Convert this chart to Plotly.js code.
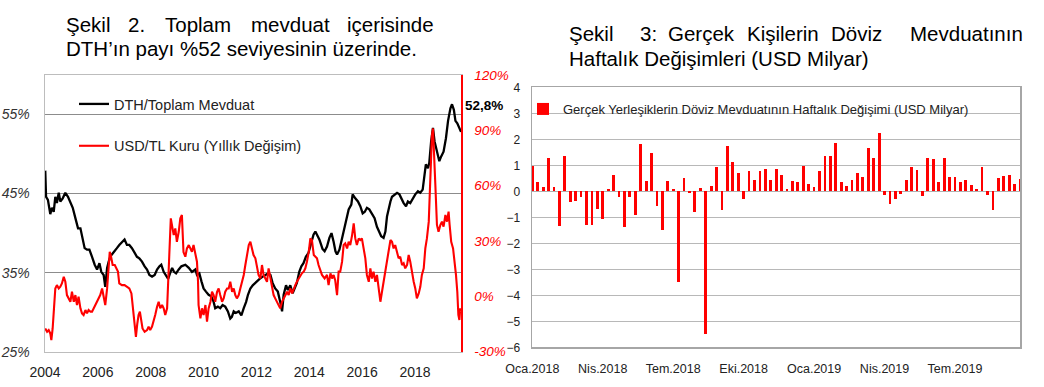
<!DOCTYPE html>
<html><head><meta charset="utf-8">
<script src="https://cdn.plot.ly/plotly-3.0.1.min.js"></script>
<style>html,body{margin:0;padding:0;background:#fff}</style>
</head><body><div id="chart" style="width:1044px;height:387px"></div>
<script>
// ---- Şekil 2: DTH / Toplam Mevduat (left axis, %) ----
const dthYear = [2004.01,2004.04,2004.11,2004.20,2004.26,2004.33,2004.39,2004.45,2004.52,2004.58,2004.67,2004.77,2004.87,2004.96,
2005.05,2005.15,2005.25,2005.34,2005.42,2005.50,2005.59,2005.68,2005.78,2005.88,2005.97,2006.06,2006.13,2006.22,2006.28,2006.35,
2006.41,2006.47,2006.53,2006.64,2006.72,2006.81,2006.91,2007.01,2007.10,2007.19,2007.29,2007.39,2007.48,2007.57,2007.67,2007.77,
2007.86,2007.95,2008.05,2008.15,2008.24,2008.33,2008.40,2008.49,2008.58,2008.66,2008.73,2008.81,2008.88,2008.96,2009.06,2009.16,
2009.31,2009.44,2009.56,2009.69,2009.75,2009.84,2009.92,2010.00,2010.09,2010.19,2010.29,2010.38,2010.44,2010.54,2010.63,2010.72,
2010.82,2010.92,2011.01,2011.07,2011.14,2011.22,2011.33,2011.43,2011.52,2011.61,2011.68,2011.77,2011.86,2011.96,2012.06,2012.15,
2012.24,2012.34,2012.44,2012.53,2012.61,2012.71,2012.81,2012.90,2012.97,2013.03,2013.12,2013.19,2013.28,2013.37,2013.45,2013.53,
2013.62,2013.70,2013.78,2013.87,2013.97,2014.07,2014.16,2014.23,2014.29,2014.38,2014.45,2014.50,2014.58,2014.67,2014.76,2014.84,
2014.92,2014.99,2015.05,2015.14,2015.21,2015.30,2015.39,2015.49,2015.59,2015.64,2015.74,2015.84,2015.93,2016.02,2016.10,2016.18,
2016.27,2016.37,2016.47,2016.56,2016.65,2016.72,2016.81,2016.88,2016.94,2017.00,2017.07,2017.13,2017.23,2017.32,2017.41,2017.48,
2017.57,2017.66,2017.73,2017.82,2017.91,2018.01,2018.11,2018.20,2018.29,2018.36,2018.41,2018.49,2018.54,2018.61,2018.68,2018.74,
2018.83,2018.92,2018.99,2019.08,2019.17,2019.25,2019.34,2019.40,2019.47,2019.53,2019.60,2019.66,2019.72,2019.74];
const dthValue = [47.9,44.6,44.2,42.4,43.2,42.7,44.6,43.8,45.1,44.0,44.4,45.1,44.6,43.8,
43.2,41.9,40.6,40.6,39.4,38.1,37.9,37.9,37.0,36.0,35.4,36.2,35.1,34.7,33.2,35.6,
36.4,37.0,37.3,37.7,38.1,38.5,38.9,39.2,38.5,38.5,38.1,37.5,37.0,36.8,36.4,35.8,
35.4,34.7,34.5,34.7,35.4,35.8,36.0,35.1,34.7,34.2,34.9,35.6,35.1,34.9,35.4,35.8,
36.0,35.6,35.1,35.4,34.7,34.9,33.9,33.0,32.6,32.2,32.0,31.3,30.5,30.7,30.5,30.9,
30.7,30.1,29.2,29.4,30.1,29.9,30.1,29.6,30.5,31.3,32.2,33.0,33.4,33.7,34.1,34.3,
34.5,34.7,34.9,34.7,33.7,33.0,32.6,31.3,30.1,32.2,33.4,32.8,33.4,32.4,33.0,33.7,
35.1,35.8,36.2,37.0,37.5,38.7,39.8,40.2,39.8,39.2,38.5,38.0,37.7,38.3,39.4,40.0,
38.9,37.7,37.3,37.9,38.9,40.2,41.5,43.0,43.6,44.9,44.4,44.0,43.4,42.5,42.7,43.2,
43.0,42.5,41.9,40.8,40.0,39.6,39.4,40.2,42.1,43.2,44.0,44.6,44.9,45.1,44.9,44.4,
43.8,43.4,44.0,43.8,44.4,44.9,45.3,45.1,45.5,47.4,48.7,48.2,48.9,51.6,53.3,51.6,
50.3,49.1,49.7,50.3,52.0,54.2,55.8,56.3,55.6,54.2,53.9,53.3,52.9,52.8];

// ---- USD/TL Kuru (Yıllık Değişim), right axis, % ----
const usdYear = [2004.01,2004.08,2004.14,2004.20,2004.24,2004.29,2004.34,2004.39,2004.45,2004.52,2004.58,2004.64,2004.71,2004.77,
2004.83,2004.90,2004.96,2005.02,2005.09,2005.15,2005.21,2005.27,2005.34,2005.40,2005.46,2005.53,2005.59,2005.65,2005.72,2005.78,
2005.84,2005.90,2005.97,2006.03,2006.09,2006.16,2006.22,2006.28,2006.35,2006.41,2006.45,2006.50,2006.56,2006.64,2006.71,2006.76,
2006.81,2006.91,2007.01,2007.11,2007.19,2007.27,2007.33,2007.39,2007.44,2007.49,2007.54,2007.59,2007.64,2007.69,2007.77,2007.86,
2007.92,2007.98,2008.05,2008.11,2008.17,2008.24,2008.30,2008.36,2008.43,2008.49,2008.55,2008.62,2008.65,2008.70,2008.76,2008.81,
2008.87,2008.93,2008.99,2009.06,2009.12,2009.18,2009.24,2009.31,2009.37,2009.44,2009.50,2009.56,2009.62,2009.69,2009.75,2009.79,
2009.81,2009.88,2009.94,2010.00,2010.07,2010.13,2010.19,2010.26,2010.32,2010.38,2010.44,2010.51,2010.57,2010.63,2010.70,2010.76,
2010.82,2010.89,2010.95,2011.01,2011.08,2011.14,2011.20,2011.26,2011.33,2011.39,2011.45,2011.52,2011.58,2011.64,2011.71,2011.77,
2011.83,2011.89,2011.96,2012.02,2012.08,2012.15,2012.21,2012.27,2012.34,2012.40,2012.46,2012.53,2012.59,2012.65,2012.71,2012.78,
2012.84,2012.90,2012.97,2013.03,2013.09,2013.16,2013.22,2013.28,2013.35,2013.41,2013.47,2013.53,2013.60,2013.66,2013.72,2013.79,
2013.85,2013.91,2013.98,2014.04,2014.10,2014.17,2014.23,2014.29,2014.35,2014.42,2014.48,2014.58,2014.67,2014.73,2014.80,2014.86,
2014.92,2014.98,2015.05,2015.11,2015.17,2015.24,2015.30,2015.36,2015.43,2015.49,2015.55,2015.62,2015.68,2015.74,2015.80,2015.87,
2015.93,2015.99,2016.06,2016.12,2016.18,2016.25,2016.31,2016.37,2016.43,2016.50,2016.56,2016.62,2016.69,2016.75,2016.81,2016.88,
2016.94,2017.00,2017.07,2017.13,2017.19,2017.25,2017.32,2017.38,2017.44,2017.51,2017.57,2017.63,2017.70,2017.76,2017.82,2017.89,
2017.95,2018.01,2018.07,2018.14,2018.20,2018.26,2018.33,2018.39,2018.45,2018.52,2018.55,2018.59,2018.64,2018.68,2018.72,2018.77,
2018.83,2018.89,2018.96,2019.02,2019.08,2019.15,2019.21,2019.27,2019.31,2019.37,2019.44,2019.50,2019.55,2019.60,2019.64,2019.68,
2019.71,2019.74];
const usdValue = [-17.4,-19.2,-18.3,-20.1,-23.7,-17.4,-6.5,4.3,6.1,4.3,5.2,7.0,10.6,7.9,
0.7,-1.1,-2.9,2.5,-2.9,0.7,-4.7,-0.2,-6.5,-9.2,-10.1,-7.4,-9.2,-7.4,-8.3,-8.3,
-6.5,-4.7,-2.9,-1.1,0.7,4.3,-0.2,-4.7,4.3,15.2,24.2,21.5,17.0,17.0,15.2,13.4,
7.0,6.1,6.1,5.2,4.3,1.6,-6.5,-13.7,-22.0,-15.0,-10.1,-8.3,-13.7,-17.4,-19.2,-18.3,
-16.4,-18.3,-16.4,-13.7,-10.1,-5.6,-2.9,-6.5,-4.7,-6.5,-10.1,-6.5,7.9,21.5,42.3,37.8,
33.2,36.8,29.6,35.0,42.3,44.1,24.0,21.5,26.0,27.8,26.0,24.2,27.8,22.4,18.8,7.9,
-4.7,-11.9,-6.5,-10.1,-4.7,-13.7,-6.5,-2.9,2.5,0.7,-2.9,2.5,4.3,0.7,-2.9,-1.1,
2.5,4.3,4.3,7.9,2.5,4.3,0.7,-1.1,0.7,4.3,7.9,11.6,17.0,22.4,27.8,29.6,
26.0,22.4,20.6,15.2,11.6,9.7,17.0,11.6,9.7,7.9,15.2,9.7,4.3,0.7,-1.1,-2.9,
-4.7,-6.5,-2.9,-1.1,0.7,2.5,0.7,4.3,1.6,4.3,6.1,7.9,9.7,11.6,12.5,13.4,
15.2,18.8,24.2,31.4,30.5,22.4,21.5,20.6,17.0,13.4,11.6,9.7,11.6,6.1,12.5,9.7,
11.6,8.8,0.7,13.4,13.4,18.8,27.8,28.7,26.0,29.6,27.8,33.2,39.6,31.4,27.8,31.4,
30.5,31.4,26.0,20.6,11.6,7.9,15.2,9.7,13.4,7.9,11.6,4.3,-2.9,2.5,7.9,15.2,
20.6,24.2,30.5,29.6,26.0,27.8,24.2,20.6,21.5,17.0,17.9,15.2,17.0,22.4,18.8,11.6,
7.9,4.3,-1.1,1.6,5.2,11.6,15.2,26.0,31.4,40.5,51.3,74.8,87.4,91.0,80.2,60.3,
38.7,35.0,38.7,40.5,37.8,44.1,40.5,45.9,38.7,29.6,26.0,18.8,11.6,2.5,-10.1,-12.8,
-6.5,-8.3];

const yearTicks = [2004,2006,2008,2010,2012,2014,2016,2018];
const leftTickVals = [25,35,45,55];
const leftTickText = ['25%','35%','45%','55%'];
const rightTickVals = [-30,0,30,60,90,120];
const rightTickText = ['-30%','0%','30%','60%','90%','120%'];

// ---- Şekil 3: weekly change (USD bn) ----
const weekDates = ['2018-01-05','2018-01-12','2018-01-19','2018-01-26','2018-02-02','2018-02-09','2018-02-16','2018-02-23',
'2018-03-02','2018-03-09','2018-03-16','2018-03-23','2018-03-30','2018-04-06','2018-04-13','2018-04-20','2018-04-27',
'2018-05-04','2018-05-11','2018-05-18','2018-05-25','2018-06-01','2018-06-08','2018-06-15','2018-06-22','2018-06-29',
'2018-07-06','2018-07-13','2018-07-20','2018-07-27','2018-08-03','2018-08-10','2018-08-17','2018-08-24','2018-08-31',
'2018-09-07','2018-09-14','2018-09-21','2018-09-28','2018-10-05','2018-10-12','2018-10-19','2018-10-26','2018-11-02',
'2018-11-09','2018-11-16','2018-11-23','2018-11-30','2018-12-07','2018-12-14','2018-12-21','2018-12-28','2019-01-04',
'2019-01-11','2019-01-18','2019-01-25','2019-02-01','2019-02-08','2019-02-15','2019-02-22','2019-03-01','2019-03-08',
'2019-03-15','2019-03-22','2019-03-29','2019-04-05','2019-04-12','2019-04-19','2019-04-26','2019-05-03','2019-05-10',
'2019-05-17','2019-05-24','2019-05-31','2019-06-07','2019-06-14','2019-06-21','2019-06-28','2019-07-05','2019-07-12',
'2019-07-19','2019-07-26','2019-08-02','2019-08-09','2019-08-16','2019-08-23','2019-08-30','2019-09-06','2019-09-13',
'2019-09-20','2019-09-27'];
const weeklyChange = [0.97,0.37,0.17,1.29,0.17,-1.35,1.34,-0.43,-0.36,-0.22,-1.28,-1.28,-0.68,-1.08,0.09,0.62,-0.23,
-1.38,-0.2,-0.91,1.81,0.41,1.46,-0.55,-1.5,0.41,0.09,-3.5,0.5,-0.08,-0.8,0.13,-5.5,0.21,0.93,
-0.71,1.73,1.14,0.7,-0.3,0.77,0.45,0.77,0.85,0.45,0.85,0.64,0.1,0.41,0.34,0.98,0.3,0.17,
0.77,1.37,1.34,1.85,0.37,0.22,0.45,0.7,0.54,1.66,1.3,2.25,-0.14,-0.5,-0.3,-0.11,0.45,0.94,
0.82,-0.19,1.3,1.26,0.37,1.3,0.54,0.54,0.37,0.42,0.26,0.1,0.94,-0.14,-0.71,0.5,0.58,0.62,
0.3,0.46];
const quarterTickDates = ['2018-01-05','2018-04-06','2018-07-06','2018-10-05','2019-01-04','2019-04-05','2019-07-05'];
const quarterTickLabels = ['Oca.2018','Nis.2018','Tem.2018','Eki.2018','Oca.2019','Nis.2019','Tem.2019'];

const W = 1044, H = 387;
const px = v => v / W;
const py = v => 1 - v / H;
const FONT = 'Liberation Sans, Arial, sans-serif';
const DAY = 86400000;

const traces = [
  {x: dthYear, y: dthValue, xaxis: 'x', yaxis: 'y', type: 'scatter', mode: 'lines',
   name: 'DTH/Toplam Mevduat', legendgroup: 'a', line: {color: '#000000', width: 2.3}},
  {x: usdYear, y: usdValue, xaxis: 'x', yaxis: 'y2', type: 'scatter', mode: 'lines',
   name: 'USD/TL Kuru (Yıllık Değişim)', legendgroup: 'b', line: {color: '#ff0000', width: 2.1}},
  {x: weekDates, y: weeklyChange, xaxis: 'x3', yaxis: 'y3', type: 'bar', legend: 'legend2',
   name: 'Gerçek Yerleşiklerin Döviz Mevduatının Haftalık Değişimi (USD Milyar)',
   marker: {color: '#ff0000'}, width: 3.6 * DAY}
];

function word(text, x, y, anchor, size) {
  return {text: text, x: px(x), y: py(y), xref: 'paper', yref: 'paper', xanchor: anchor || 'left',
    yanchor: 'middle', showarrow: false, font: {family: FONT, size: size || 20.5, color: '#000'}};
}

const annotations = [
  word('Şekil', 88, 24, 'center'), word('2.', 136.7, 24, 'center'), word('Toplam', 198.3, 24, 'center'),
  word('mevduat', 290, 24, 'center'), word('içerisinde', 390, 24, 'center'),
  word('DTH’ın payı %52 seviyesinin üzerinde.', 64, 49),
  word('Şekil', 590.5, 33, 'center'), word('3:', 648, 33, 'center'), word('Gerçek', 701, 33, 'center'),
  word('Kişilerin', 783, 33, 'center'), word('Döviz', 856, 33, 'center'),
  word('Mevduatının', 966, 33, 'center'),
  word('Haftalık Değişimleri (USD Milyar)', 566.5, 59),
  {text: '<b>52,8%</b>', x: px(463), y: py(105), xref: 'paper', yref: 'paper', xanchor: 'left', yanchor: 'middle',
   showarrow: false, font: {family: FONT, size: 13.5, color: '#000'}}
];

const layout = {
  width: W, height: H, margin: {l: 0, r: 0, t: 0, b: 0},
  paper_bgcolor: '#ffffff', plot_bgcolor: 'rgba(0,0,0,0)',
  font: {family: FONT, color: '#222'},
  showlegend: true,
  xaxis: {domain: [px(45), px(461)], anchor: 'y', range: [2004, 2019.74], tickmode: 'array', tickvals: yearTicks,
    ticktext: yearTicks.map(String), showgrid: false, zeroline: false, showline: true, mirror: true,
    linecolor: '#bdbdbd', linewidth: 1.5, ticks: '', ticklabelstandoff: 7, tickfont: {size: 14, color: '#222'}},
  yaxis: {domain: [py(351.7), py(75)], anchor: 'x', range: [25, 60], tickmode: 'array', tickvals: leftTickVals,
    ticktext: leftTickText, showgrid: true, gridcolor: '#8c8c8c', gridwidth: 1, zeroline: false, showline: true,
    linecolor: '#bdbdbd', linewidth: 1.5, ticks: '', ticklabelstandoff: 11,
    tickfont: {size: 14, color: '#333', style: 'italic'}},
  yaxis2: {overlaying: 'y', side: 'right', anchor: 'x', range: [-30, 120], tickmode: 'array', tickvals: rightTickVals,
    ticktext: rightTickText, showgrid: false, zeroline: false, showline: true, linecolor: '#ff0000', linewidth: 1.5,
    ticks: '', ticklabelstandoff: 9, tickfont: {size: 13.5, color: '#ff0000', style: 'italic'}},
  xaxis3: {domain: [px(532), px(1020)], anchor: 'y3', type: 'date', range: ['2018-01-04 14:00', '2019-09-27'],
    tickmode: 'array', tickvals: quarterTickDates, ticktext: quarterTickLabels, showgrid: false, zeroline: false,
    showline: true, mirror: true, linecolor: '#a6a6a6', linewidth: 1.5, ticks: '', ticklabelstandoff: 9,
    tickfont: {size: 12.5, color: '#222'}},
  yaxis3: {domain: [py(347.3), py(87.3)], anchor: 'x3', range: [-6, 4], dtick: 1, tick0: 0, showgrid: true,
    gridcolor: '#b8b8b8', gridwidth: 1.3, zeroline: true, zerolinecolor: '#b0b0b0', zerolinewidth: 1.3,
    showline: true, mirror: true, linecolor: '#a6a6a6', linewidth: 1.5, ticks: '', ticklabelstandoff: 8,
    tickfont: {size: 12, color: '#222'}},
  legend: {x: px(74), y: py(88), xanchor: 'left', yanchor: 'top', bgcolor: 'rgba(0,0,0,0)', borderwidth: 0,
    font: {size: 14.5, color: '#222'}, tracegroupgap: 20, itemwidth: 30},
  legend2: {x: px(523), y: py(94), xanchor: 'left', yanchor: 'top', bgcolor: 'rgba(0,0,0,0)', borderwidth: 0,
    font: {size: 13, color: '#222'}, itemwidth: 30},
  annotations: annotations,
  bargap: 0
};

Plotly.newPlot('chart', traces, layout, {displayModeBar: false, staticPlot: true});
</script>
</body></html>
